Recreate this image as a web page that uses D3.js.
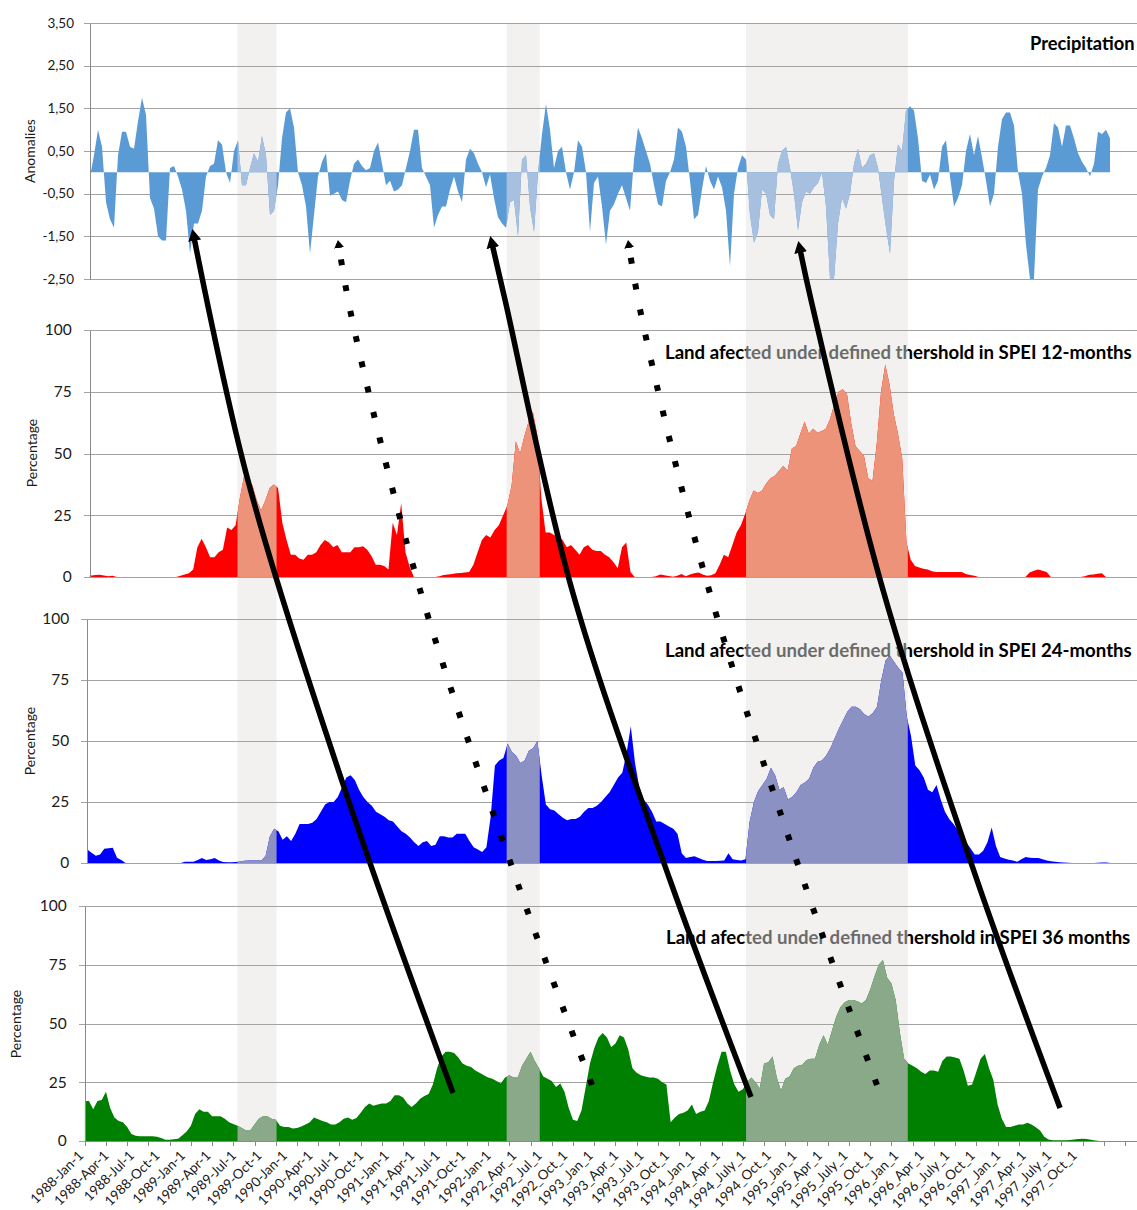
<!DOCTYPE html>
<html><head><meta charset="utf-8">
<script src="https://cdn.jsdelivr.net/npm/d3@7"></script>
<style>
body{margin:0;background:#fff}
svg{display:block}
text{font-family:Lato,"Open Sans",sans-serif}
</style>
</head><body>
<svg id="c" width="1137" height="1210"></svg>
<script>
// ---------------- DATA ----------------
const precipitation = [
 -0.1,0.4,1.0,0.6,-0.7,-1.1,-1.3,0.4,0.95,0.95,0.6,0.55,1.2,1.75,1.35,-0.6,
 -0.85,-1.5,-1.6,-1.6,0.1,0.15,-0.1,-0.4,-0.9,-1.9,-1.2,-1.2,-0.9,-0.1,0.15,0.2,
 0.75,0.65,0.0,-0.25,0.5,0.75,-0.3,-0.3,0.1,0.45,0.25,0.85,0.4,-1.0,-0.9,-0.3,
 0.8,1.4,1.5,1.05,0.0,-0.3,-0.8,-1.9,-1.0,-0.1,0.25,0.45,-0.55,-0.5,-0.45,-0.65,
 -0.7,-0.2,0.2,0.3,0.15,0.05,0.1,0.5,0.7,0.2,-0.3,-0.2,-0.45,-0.4,-0.3,0.1,
 0.5,1.0,1.0,0.1,-0.1,-0.3,-1.3,-1.0,-0.8,-0.8,-0.4,-0.1,-0.45,-0.7,0.3,0.55,
 0.45,0.2,0.0,-0.35,-0.05,-0.6,-1.05,-1.2,-1.3,-0.7,-0.65,-1.5,0.3,0.4,-0.8,-1.4,
 0.0,0.9,1.6,1.0,0.1,0.5,0.6,0.0,-0.4,0.0,0.75,0.6,0.0,-1.4,-0.25,-0.1,
 -0.8,-1.7,-0.9,-0.75,-0.5,-0.3,-0.6,-0.9,0.3,1.05,0.8,0.5,0.2,-0.3,-0.75,-0.8,
 -0.2,0.0,0.3,1.05,0.95,0.6,-0.2,-1.1,-1.0,-0.4,0.15,-0.2,-0.4,-0.1,-0.35,-0.9,
 -2.2,-0.5,0.1,0.4,0.3,-1.0,-1.65,-1.4,-0.4,-0.5,-1.0,-1.1,0.2,0.5,0.6,0.1,
 -0.5,-1.35,-0.7,-0.45,-0.5,-0.35,-0.25,0.0,-0.8,-2.5,-2.5,-1.2,-0.6,-0.85,-0.5,0.2,
 0.55,0.1,0.2,0.4,0.45,0.1,-0.6,-1.3,-1.9,-0.2,0.65,0.5,1.45,1.55,1.45,0.8,
 -0.2,-0.25,-0.05,-0.4,-0.2,0.6,0.75,-0.1,-0.8,-0.6,-0.3,0.5,0.9,0.4,0.85,0.35,
 -0.2,-0.8,-0.5,0.6,1.25,1.4,1.4,1.1,0.0,-0.5,-1.7,-2.5,-2.5,-0.4,-0.1,0.1,
 0.4,1.15,1.05,0.6,1.1,1.1,0.8,0.45,0.25,0.1,-0.1,0.2,0.95,0.9,1.0,0.8
];
// half-monthly values, % of land
const spei12 = [
 0.8,0.6,0.8,0.9,0.6,0.3,0.5,0,0,0,
 0,0,0,0,0,0,0,0,0,0,
 0,0,0.5,1,1.5,3,12,15.5,12,8,
 8,10,11,20,19,21,32,41,39,37,
 31,27,31,36,37.5,36,22,15,9,9,
 7.5,7,9,9,10,13,15,14,12,13,
 10,10,10,12,12,12.5,11,8.5,5,5,
 4.5,3,22,17,30,10,4,0,0,0,
 0,0,0,0.3,0.8,1,1.2,1.5,1.6,1.8,
 2,5,10,15,17,16,19,21,25,29,
 37,55,50,57,63,67,58,32,18,18,
 17,16,15,12,13,11,9,12,13,11,
 10.5,10.5,9,8,6,3.5,12,14,2,0,
 0,0,0,0,0.3,1,0.7,0.4,0.1,0.5,
 1.2,0.3,1,1.5,1.8,1,0.5,0.7,1.5,5,
 9,8,13,18,21,25.5,31,35,34,35,
 38,40,41,43,45,43,52,53,58,63,
 58,60,58.5,59,60,64,70,75,76,74,
 62,53,51,49,40,39,54,75,86,78,
 66,58,48,14,7,4.5,3.8,3.3,3,2.3,
 2,2,2,2,2,2,2,1.2,0.8,0.5,
 0,0,0,0,0,0,0,0,0,0,
 0,0,1.8,2.5,3,2.5,2,0,0,0,
 0,0,0,0,0,0.3,0.9,1,1.3,1.5,
 0
];
const spei24 = [
 5.5,4.2,3,3.5,5.8,6,6.2,2.2,1.2,0,
 0,0,0,0,0,0,0,0,0,0,
 0,0,0,0.5,0.5,0.5,1.2,2,1.2,1.5,
 2,1,0.4,0.3,0.3,0.4,0.6,0.9,1,1,
 1,1,3,11,14,13,9.5,11,9,12,
 16,16,16,16.5,18,21,24,25,25,27,
 31,35,36,34,30,27,25,23.5,21,20,
 19,17.5,17,15,13,12,10.5,8.5,7,8.5,
 9,7,7.5,11,11,10.5,10.5,12,12,12,
 9,6.5,5.5,4.5,6.5,19,40,42,43,49,
 45.5,44,41,42,46,47,50,36,24,22,
 21.5,20,18.5,17.5,18,18,19,21,22.5,22.5,
 23.5,25,27,29,32,35,37,45,56,41,
 31,26,24,21,17,17,16,15,14,12,
 4,2,2.5,2.8,2,1.3,0.8,0.8,0.8,0.9,
 1,4,1.5,1.2,1,1.5,17,25,29.5,32,
 34.5,39,36,30,31,26,27,29,32,33,
 34.5,39,41.5,42,44,47,51,55,58.5,62,
 64,64,63,61,60,61.5,64,75,83,85,
 82.5,80,78,60,52,40,38,35,30,29,
 32,26,21,18,16,13.5,11.5,8.5,6,3.5,
 3.5,5,8.5,14.5,7,2.5,1.8,1.3,1,0.5,
 1.5,2.5,2.2,2,2,1.5,1,0.7,0.5,0.3,
 0.2,0.1,0,0,0,0,0,0,0.1,0.2,
 0.2,0
];
const spei36 = [
 17,17,13.5,17,17.5,21,14,10,8.5,8,
 6,3,2.2,2,2,2,2,1.8,1.3,0.5,
 0.5,0.7,1,2.5,4,6.5,11.5,13.5,12.5,12.5,
 10.5,10.5,10.5,9.5,8,7.2,6.5,5.5,4.5,4.5,
 7,9.5,10.5,10.5,9.5,9,6.5,6,6,5.3,
 5.5,6.2,7,8,10,9.3,8.5,8,7,7,
 8,9.5,10,9,9.8,12,14.5,16,15,15.5,
 16,16,17,19.5,19.5,18.5,16,14.5,16,18,
 19.2,20,24,31,36,38,38,37.5,35.5,33,
 32,31.5,30,29,28,27,26.5,25.5,24.5,27,
 28,27,27,32,35,38,34,31,27.5,26.5,
 25.5,23,24.5,21,14,9,8.5,13,23,33,
 39.5,44,46,44,40,41.5,45,44,39,31,
 29,28,27.5,27,27,26.5,25,24,8,10,
 11.5,12,13,15.5,11.5,12.5,13,17,25,32,
 38,38,30,24,21,22,25,27,25,22.5,
 33,33.5,36,27,21.5,26.5,27.5,31,32,32.5,
 34.5,35,35,41,45,41,47,53,57,59,
 60,60,59.5,58.5,60,64.5,70,75,77,69.5,
 67,60,46,35,33,32,31,29.5,28.5,30,
 30,29.5,34,36,36,35.5,35,30,23.5,24,
 29.5,35,37,31,26,15.5,9.5,6,6,6.5,
 7,7,7.8,7,5.8,4.5,1.8,0.6,0.3,0.3,
 0.3,0.3,0.4,0.6,0.8,1,0.8,0.5,0.2,0
];
const precipTicks = [-2.5,-1.5,-0.5,0.5,1.5,2.5,3.5];
const pctTicks = [0,25,50,75,100];
const xLabels = ["1988-Jan-1","1988-Apr-1","1988-Jul-1","1988-Oct-1","1989-Jan-1","1989-Apr-1","1989-Jul-1","1989-Oct-1",
 "1990-Jan-1","1990-Apr-1","1990-Jul-1","1990-Oct-1","1991-Jan-1","1991-Apr-1","1991-Jul-1","1991-Oct-1",
 "1992-Jan-1","1992_Apr_1","1992_Jul_1","1992_Oct_1","1993_Jan_1","1993_Apr_1","1993_Jul_1","1993_Oct_1",
 "1994_Jan_1","1994_Apr_1","1994_July_1","1994_Oct_1","1995_Jan_1","1995_Apr_1","1995_July_1","1995_Oct_1",
 "1996_Jan_1","1996_Apr_1","1996_July_1","1996_Oct_1","1997_Jan_1","1997_Apr_1","1997_July_1","1997_Oct_1"];
const titles = ["Precipitation","Land afected under defined thershold in SPEI 12-months",
 "Land afected under defined thershold in SPEI 24-months","Land afected under defined thershold in SPEI 36 months"];
const yTitles = ["Anomalies","Percentage","Percentage","Percentage"];
// highlighted periods, in months since 1988-Jan
const bandMonths = [[18.0,22.6],[49.7,53.6],[77.9,96.95]];
// arrows: [month, % of figure height], drawn bottom -> top
const arrowsSolid = [
 [[43.38,90.33],[30.66,65.29],[19.12,39.42],[12.93,19.81]],
 [[78.48,90.66],[68.94,72.73],[57.40,48.76],[49.51,24.79],[48.06,20.39]],
 [[114.88,91.57],[105.10,72.73],[94.03,48.76],[85.55,24.79],[84.31,20.80]]
];
const arrowsDotted = [
 [[59.75,89.67],[51.27,73.55],[39.26,48.18],[31.48,26.36],[29.95,20.41]],
 [[93.32,89.67],[85.08,73.64],[73.30,48.18],[65.64,26.36],[64.12,20.41]]
];

// ---------------- LAYOUT ----------------
const W = 1137, H = 1210, RIGHT = 1137;
const MONTH_PX = 8.49, CAT_PX = 4.246;
const svg = d3.select("#c");
const fmtComma = v => (v < 0 ? "-" : "") + Math.abs(v).toFixed(2).replace(".", ",");

const panels = [
 {data: precipitation, axisX: 90, x0: 90, dom: [-2.5, 3.5], rng: [279, 23], ticks: precipTicks, fmt: fmtComma, tf: 13.5, gap: 16,
  color: "#5B9BD5", light: "#A7C0E0", ylx: 30, yly: 151, tx: 1030, ty: 50, ts: 18.3},
 {data: spei12, axisX: 89.8, x0: 87, dom: [0, 100], rng: [577, 330], ticks: pctTicks, fmt: d => d, tf: 15.5, gap: 18,
  color: "#FF0000", light: "#EC937A", ylx: 32.5, yly: 453, tx: 665, ty: 359, ts: 18.6},
 {data: spei24, axisX: 87.3, x0: 87.3, dom: [0, 100], rng: [863, 619], ticks: pctTicks, fmt: d => d, tf: 15.5, gap: 18,
  color: "#0000FF", light: "#8C91C4", ylx: 30, yly: 741, tx: 665, ty: 657, ts: 18.6},
 {data: spei36, axisX: 84.7, x0: 84.7, dom: [0, 100], rng: [1141, 906], ticks: pctTicks, fmt: d => d, tf: 15.5, gap: 18,
  color: "#008000", light: "#89A989", ylx: 16.5, yly: 1024, tx: 666, ty: 944, ts: 18.6}
];

const xMonth = d3.scaleLinear().domain([0, 1]).range([84.7, 84.7 + MONTH_PX]);
const yFig = d3.scaleLinear().domain([0, 100]).range([0, H]);
const xCat = d3.scaleLinear().domain([0, 1]).range([84.7, 84.7 + CAT_PX]);

svg.append("rect").attr("width", W).attr("height", H).attr("fill", "#fff");

const defs = svg.append("defs");
const clip = defs.append("clipPath").attr("id", "bandClip");
clip.selectAll("rect").data(bandMonths).join("rect")
  .attr("x", d => xMonth(d[0])).attr("width", d => xMonth(d[1]) - xMonth(d[0]))
  .attr("y", 0).attr("height", H);

// title fill: black outside the highlighted periods, grey inside
const grad = defs.append("linearGradient").attr("id", "titleFill").attr("gradientUnits", "userSpaceOnUse")
  .attr("x1", 0).attr("y1", 0).attr("x2", W).attr("y2", 0);
const stops = [[0, "#000"]];
bandMonths.forEach(([a, b]) => {
  const xa = xMonth(a) / W, xb = xMonth(b) / W;
  stops.push([xa, "#000"], [xa, "#6A6A6A"], [xb, "#6A6A6A"], [xb, "#000"]);
});
stops.push([1, "#000"]);
grad.selectAll("stop").data(stops).join("stop").attr("offset", d => d[0]).attr("stop-color", d => d[1]);

svg.append("g").selectAll("rect").data(bandMonths).join("rect")
  .attr("x", d => xMonth(d[0])).attr("width", d => xMonth(d[1]) - xMonth(d[0]))
  .attr("y", 23).attr("height", 1141 - 23).attr("fill", "#F2F1EF");

panels.forEach((p, pi) => {
  const y = d3.scaleLinear().domain(p.dom).range(p.rng);
  const x = pi === 0
    ? d3.scaleLinear().domain([0, p.data.length - 1]).range([90, 1110])
    : d3.scaleLinear().domain([0, 1]).range([p.x0, p.x0 + CAT_PX]);
  defs.append("clipPath").attr("id", "plot" + pi).append("rect")
    .attr("x", p.axisX).attr("y", 0).attr("width", RIGHT - p.axisX).attr("height", H);
  const g = svg.append("g");
  g.append("g").attr("transform", `translate(${p.axisX},0)`)
    .call(d3.axisLeft(y).tickValues(p.ticks).tickSize(-(RIGHT - p.axisX)).tickFormat(""))
    .call(s => s.select(".domain").remove())
    .call(s => s.selectAll("line").attr("stroke", "#A3A3A3").attr("x1", -6).attr("shape-rendering", "crispEdges"));
  const area = d3.area().x((d, i) => x(i)).y0(y(0)).y1(d => y(d));
  const ga = g.append("g").attr("clip-path", `url(#plot${pi})`);
  ga.append("path").datum(p.data).attr("d", area).attr("fill", p.color);
  ga.append("path").datum(p.data).attr("d", area).attr("fill", p.light).attr("clip-path", "url(#bandClip)");
  g.append("g").attr("transform", `translate(${p.axisX},0)`)
    .call(d3.axisLeft(y).tickValues(p.ticks).tickSize(0).tickPadding(p.gap).tickFormat(p.fmt))
    .call(s => s.select(".domain").attr("stroke", "#8A8A8A").attr("shape-rendering", "crispEdges"))
    .call(s => s.selectAll("text").attr("font-size", p.tf).attr("fill", "#1a1a1a")
      .style("font-family", "Lato,'Open Sans',sans-serif"));
  g.append("text").attr("transform", `translate(${p.ylx},${p.yly}) rotate(-90)`)
    .attr("text-anchor", "middle").attr("dy", "0.35em").attr("font-size", 14).attr("fill", "#1a1a1a")
    .text(yTitles[pi]);
  g.append("text").attr("x", p.tx).attr("y", p.ty).attr("font-size", p.ts).attr("font-weight", "bold")
    .attr("fill", "url(#titleFill)").text(titles[pi]);
});

const gx = svg.append("g").attr("transform", "translate(0,1141)");
gx.call(d3.axisBottom(xCat).tickValues(d3.range(0, 246, 5)).tickSize(5).tickFormat(""))
  .call(s => s.select(".domain").remove())
  .call(s => s.selectAll("line").attr("stroke", "#8A8A8A").attr("shape-rendering", "crispEdges"));
gx.append("line").attr("x1", xCat(0)).attr("x2", RIGHT).attr("y1", 0.5).attr("y2", 0.5).attr("stroke", "#8A8A8A");
svg.append("g").selectAll("text").data(xLabels).join("text")
  .attr("transform", (d, i) => `translate(${xCat(6 * i + 0.5) - 6},1153) rotate(-45)`)
  .attr("text-anchor", "end").attr("dy", "0.35em").attr("font-size", 13.5).attr("fill", "#1a1a1a")
  .text(d => d);

const mk = (id, len, wid) => defs.append("marker").attr("id", id).attr("markerUnits", "userSpaceOnUse")
  .attr("viewBox", `0 ${-wid/2} ${len} ${wid}`).attr("refX", 1).attr("refY", 0)
  .attr("markerWidth", len).attr("markerHeight", wid).attr("orient", "auto")
  .append("path").attr("d", `M0,${-wid/2}L${len},0L0,${wid/2}Z`).attr("fill", "#000");
mk("headS", 12, 13);
mk("headD", 8, 10);
const arrowLine = d3.line().x(d => xMonth(d[0])).y(d => yFig(d[1])).curve(d3.curveCatmullRom.alpha(0.5));
svg.append("g").selectAll("path").data(arrowsSolid).join("path")
  .attr("d", arrowLine).attr("fill", "none").attr("stroke", "#000").attr("stroke-width", 5.5)
  .attr("marker-end", "url(#headS)");
svg.append("g").selectAll("path").data(arrowsDotted).join("path")
  .attr("d", arrowLine).attr("fill", "none").attr("stroke", "#000").attr("stroke-width", 6)
  .attr("stroke-dasharray", "6 20").attr("marker-end", "url(#headD)");
</script>
</body></html>
